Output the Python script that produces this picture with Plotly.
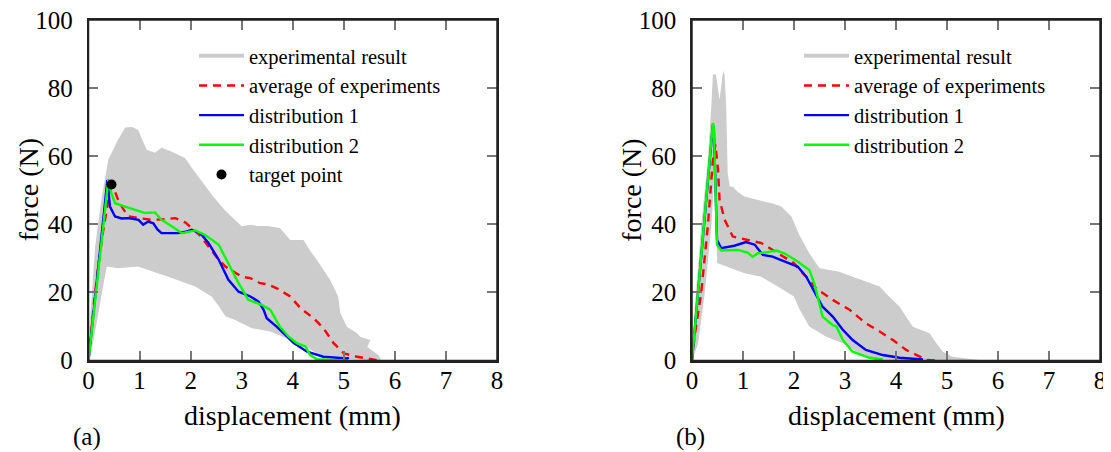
import plotly.graph_objects as go

# ---------------- data: panel (a) ----------------
a_band_up_x = [0, 0.03, 0.13, 0.26, 0.39, 0.58, 0.72, 0.85, 0.97, 1.05, 1.14, 1.30, 1.43, 1.60, 1.89, 2.05,
               2.22, 2.45, 2.68, 3.00, 3.17, 3.30, 3.50, 3.75, 3.95, 4.21, 4.35, 4.47, 4.73, 4.89, 4.93,
               5.06, 5.26, 5.32, 5.52, 5.46, 5.68, 5.72]
a_band_up_y = [0, 12, 33.5, 48, 59, 64.9, 68.4, 68.6, 67.8, 65, 61.9, 61, 62.5, 61.5, 59.5, 56,
               52.6, 48, 44, 39.4, 39.9, 39.5, 39.5, 38.9, 35.4, 35.4, 32, 29.6, 23.7, 18.8, 14,
               9.9, 8, 7, 6, 4, 1.6, 0.5]
a_band_lo_x = [0, 0.10, 0.20, 0.30, 0.36, 0.58, 0.97, 1.24, 1.63, 2.09, 2.41, 2.55, 2.68, 2.87, 3.20,
               3.56, 3.89, 4.21, 4.47, 4.73, 5.20, 5.72]
a_band_lo_y = [0, 6, 15, 23, 27.6, 27.1, 27.6, 26.1, 24.2, 21.7, 18.8, 16, 13, 11.9, 9.5,
               8.5, 6.5, 4.5, 2.1, 0.8, 0.3, 0]

a_avg_x = [0, 0.10, 0.19, 0.29, 0.39, 0.45, 0.52, 0.58, 0.68, 0.78, 1.00, 1.24, 1.50, 1.70, 1.90, 2.02,
           2.20, 2.35, 2.50, 2.68, 2.85, 3.00, 3.17, 3.36, 3.50, 3.69, 3.95, 4.15, 4.41, 4.60, 4.80,
           5.00, 5.26, 5.65]
a_avg_y = [0, 15.8, 27.6, 38.4, 47.2, 51, 49.5, 47.2, 44.5, 42.3, 41.8, 41.3, 41.5, 41.8, 40.5, 38.9,
           36.5, 33.5, 30.5, 27.6, 26, 24.6, 24.2, 22.7, 22.4, 21.2, 18.8, 15.4, 12.4, 9.5, 5.1,
           2.1, 1.1, 0.1]

a_d1_x = [0, 0.37, 0.42, 0.52, 0.65, 0.78, 0.98, 1.07, 1.17, 1.27, 1.35, 1.43, 1.57, 1.76, 1.90, 2.02,
          2.19, 2.35, 2.55, 2.74, 2.94, 3.17, 3.33, 3.43, 3.49, 3.69, 3.89, 4.02, 4.28, 4.60, 5.06, 5.10]
a_d1_y = [0, 53, 45.2, 42.3, 41.7, 41.8, 41.3, 39.9, 40.8, 40.3, 38.5, 37.4, 37.4, 37.4, 37.8, 38.4,
          37.4, 34.5, 29.6, 23.7, 20.2, 18.8, 17.3, 14.9, 12.4, 9.9, 7.0, 5.1, 2.6, 1.1, 0.6, 0.8]

a_d2_x = [0, 0.39, 0.45, 0.52, 0.72, 0.91, 1.11, 1.30, 1.43, 1.63, 1.83, 2.09, 2.28, 2.55, 2.74, 2.94,
          3.13, 3.40, 3.56, 3.75, 3.92, 4.08, 4.25, 4.34, 4.47, 5.00]
a_d2_y = [0, 53.3, 49, 46.2, 45.2, 44.3, 43.3, 43.5, 41.3, 39.4, 37.4, 38.2, 36.9, 34.0, 28.6, 22.7,
          17.8, 16.3, 14.9, 9.9, 7.0, 5.1, 4.1, 1.6, 0.4, 0]

target_x = [0.45]
target_y = [51.7]

# ---------------- data: panel (b) ----------------
b_band_up_x = [0, 0.05, 0.18, 0.31, 0.38, 0.41, 0.47, 0.54, 0.61, 0.64, 0.67, 0.70, 0.74, 0.80, 0.90,
               1.03, 1.20, 1.42, 1.60, 1.75, 1.95, 2.10, 2.30, 2.50, 2.70, 2.89, 3.15, 3.41, 3.68,
               3.85, 4.07, 4.33, 4.50, 4.66, 4.79, 4.92, 5.11, 5.50, 5.70]
b_band_up_y = [0, 14.8, 39.4, 59, 75, 84, 84, 76.6, 85, 84, 75, 55, 51.1, 51, 49.5,
               48.2, 47.5, 46.7, 46, 45.2, 42.3, 37, 31.5, 27.1, 26.5, 26.1, 24.6, 23.2, 21.7,
               19, 15.8, 9.9, 9, 8, 5.1, 2.6, 1.1, 0.5, 0]
b_band_lo_x = [0, 0.12, 0.25, 0.38, 0.45, 0.49, 0.64, 1.03, 1.36, 1.68, 2.00, 2.11, 2.30, 2.63, 2.96,
               3.28, 3.60, 4.50, 5.70]
b_band_lo_y = [0, 5, 19.8, 39.4, 58, 28.6, 27.6, 25.6, 24.6, 21.7, 18.8, 15, 10, 7, 5.1,
               2.1, 0.3, 0, 0]

b_avg_x = [0, 0.05, 0.18, 0.31, 0.41, 0.46, 0.51, 0.54, 0.64, 0.80, 1.09, 1.36, 1.68, 2.00, 2.11, 2.24,
           2.43, 2.76, 3.09, 3.41, 3.68, 3.94, 4.20, 4.46, 4.60, 4.79]
b_avg_y = [0, 7, 19.8, 39.4, 59, 63.5, 56, 47.2, 41.3, 36.4, 35.4, 34.5, 31.5, 28.6, 26.6, 24.6,
           21.2, 17.8, 14.9, 10.9, 8.5, 6, 3.1, 1.1, 0.2, 0]

b_d1_x = [0, 0.41, 0.43, 0.49, 0.57, 0.83, 1.06, 1.23, 1.39, 1.58, 1.81, 2.07, 2.24, 2.40, 2.56, 2.76,
          2.96, 3.15, 3.41, 3.74, 4.07, 4.53]
b_d1_y = [0, 69.3, 67, 35.4, 33, 33.7, 34.8, 34, 31, 30.5, 29.1, 27.6, 24.6, 20.2, 15.8, 12.9,
          9.0, 6.0, 3.1, 1.6, 0.8, 0.3]

b_d2_x = [0, 0.41, 0.43, 0.49, 0.57, 0.90, 1.09, 1.19, 1.29, 1.42, 1.65, 1.81, 2.07, 2.30, 2.40, 2.50,
          2.56, 2.76, 2.83, 2.96, 3.15, 3.48, 3.74]
b_d2_y = [0, 69.8, 68, 34, 32.3, 32.5, 31.7, 30.5, 31.5, 31.7, 32.3, 31.5, 29.1, 26.6, 22.5, 16.8,
          12.9, 10.4, 10, 6.0, 2.6, 0.8, 0.3]

x_ticks = [0, 1, 2, 3, 4, 5, 6, 7, 8]
y_ticks = [0, 20, 40, 60, 80, 100]

labels = ["experimental result", "average of experiments", "distribution 1",
          "distribution 2", "target point"]
panel_tags = ["(a)", "(b)"]

# ---------------- styles ----------------
FONT = "Liberation Serif"
GRAY = "#cccccc"
RED = "#ff0000"
BLUE = "#0000ff"
GREEN = "#00ff00"
FRAME = "#222222"
TICK = "#777777"

# the page body adds an 8px margin, so the figure is drawn 8px smaller and all
# layout positions below are given in window pixels and shifted by that offset
OFF = 8
WF, HF = 1111 - OFF, 452 - OFF
fig = go.Figure()


def add_panel(xa, ya, legend, band_up_x, band_up_y, band_lo_x, band_lo_y,
              avg_x, avg_y, d1_x, d1_y, d2_x, d2_y, with_target):
    fig.add_trace(go.Scatter(x=band_up_x + band_lo_x[::-1], y=band_up_y + band_lo_y[::-1],
                             fill="toself", fillcolor=GRAY, mode="lines",
                             line=dict(width=0, color=GRAY), showlegend=False,
                             hoverinfo="skip", xaxis=xa, yaxis=ya))
    # legend entry for the band (drawn as a thick gray line, like the original)
    fig.add_trace(go.Scatter(x=[None], y=[None], mode="lines", name=labels[0],
                             line=dict(color=GRAY, width=4), legend=legend,
                             xaxis=xa, yaxis=ya))
    fig.add_trace(go.Scatter(x=avg_x, y=avg_y, mode="lines", name=labels[1],
                             line=dict(color=RED, width=2.4, dash="8px,6px"),
                             legend=legend, xaxis=xa, yaxis=ya))
    fig.add_trace(go.Scatter(x=d1_x, y=d1_y, mode="lines", name=labels[2],
                             line=dict(color=BLUE, width=2.4), legend=legend,
                             xaxis=xa, yaxis=ya))
    fig.add_trace(go.Scatter(x=d2_x, y=d2_y, mode="lines", name=labels[3],
                             line=dict(color=GREEN, width=2.4), legend=legend,
                             xaxis=xa, yaxis=ya))
    if with_target:
        fig.add_trace(go.Scatter(x=target_x, y=target_y, mode="markers", name=labels[4],
                                 marker=dict(color="black", size=10), legend=legend,
                                 xaxis=xa, yaxis=ya))


add_panel("x", "y", "legend", a_band_up_x, a_band_up_y, a_band_lo_x, a_band_lo_y,
          a_avg_x, a_avg_y, a_d1_x, a_d1_y, a_d2_x, a_d2_y, True)
add_panel("x2", "y2", "legend2", b_band_up_x, b_band_up_y, b_band_lo_x, b_band_lo_y,
          b_avg_x, b_avg_y, b_d1_x, b_d1_y, b_d2_x, b_d2_y, False)

# window-pixel geometry
L1, R1 = 88.5, 497.0
L2, R2 = 692.0, 1100.0
TOP, BOT = 20.0, 360.5


def px(xp):
    return (xp - OFF) / WF


def py(yp):
    return 1 - (yp - OFF) / HF


axis_common = dict(showline=True, linecolor=FRAME, linewidth=1.5, mirror="allticks",
                   ticks="inside", ticklen=10, tickcolor=TICK, tickwidth=1.5,
                   showgrid=False, zeroline=False, automargin=False,
                   ticklabeloverflow="allow",
                   tickfont=dict(family=FONT, size=25, color="black"))

LEG_FONT = dict(family=FONT, size=20.5, color="black")

fig.update_layout(
    width=WF, height=HF, margin=dict(l=0, r=0, t=0, b=0, autoexpand=False),
    paper_bgcolor="white", plot_bgcolor="white",
    xaxis=dict(domain=[px(L1), px(R1)], range=[0, 8], tickvals=x_ticks, anchor="y",
               ticklabelstandoff=-3, **axis_common),
    yaxis=dict(domain=[py(BOT), py(TOP)], range=[0, 100], tickvals=y_ticks, anchor="x",
               ticklabelstandoff=9, **axis_common),
    xaxis2=dict(domain=[px(L2), px(R2)], range=[0, 8], tickvals=x_ticks, anchor="y2",
                ticklabelstandoff=-3, **axis_common),
    yaxis2=dict(domain=[py(BOT), py(TOP)], range=[0, 100], tickvals=y_ticks, anchor="x2",
                ticklabelstandoff=9, **axis_common),
    legend=dict(x=px(194), y=py(36), xanchor="left", yanchor="top",
                bgcolor="rgba(0,0,0,0)", font=LEG_FONT, itemwidth=45, tracegroupgap=0),
    legend2=dict(x=px(799), y=py(36), xanchor="left", yanchor="top",
                 bgcolor="rgba(0,0,0,0)", font=LEG_FONT, itemwidth=45, tracegroupgap=0),
    showlegend=True,
)

# axis frames (the full box around each panel)
for xa, ya in [("x", "y"), ("x2", "y2")]:
    fig.add_shape(type="rect", xref=f"{xa} domain", yref=f"{ya} domain",
                  x0=0, x1=1, y0=0, y1=1, line=dict(color=FRAME, width=1.5),
                  fillcolor="rgba(0,0,0,0)", layer="above")

ann = []
for (l, r, tag, tagx) in [(L1, R1, panel_tags[0], 87), (L2, R2, panel_tags[1], 690)]:
    ann.append(dict(text="displacement (mm)", x=px((l + r) / 2), y=py(415), xref="paper",
                    yref="paper", showarrow=False, xanchor="center", yanchor="middle",
                    font=dict(family=FONT, size=28, color="black")))
    ann.append(dict(text="force (N)", x=px(l - 60.5), y=py((TOP + BOT) / 2), xref="paper",
                    yref="paper", showarrow=False, xanchor="center", yanchor="middle",
                    textangle=-90, font=dict(family=FONT, size=28, color="black")))
    ann.append(dict(text=tag, x=px(tagx), y=py(437), xref="paper", yref="paper",
                    showarrow=False, xanchor="center", yanchor="middle",
                    font=dict(family=FONT, size=25, color="black")))
fig.update_layout(annotations=ann)

fig.write_html("out.html")
